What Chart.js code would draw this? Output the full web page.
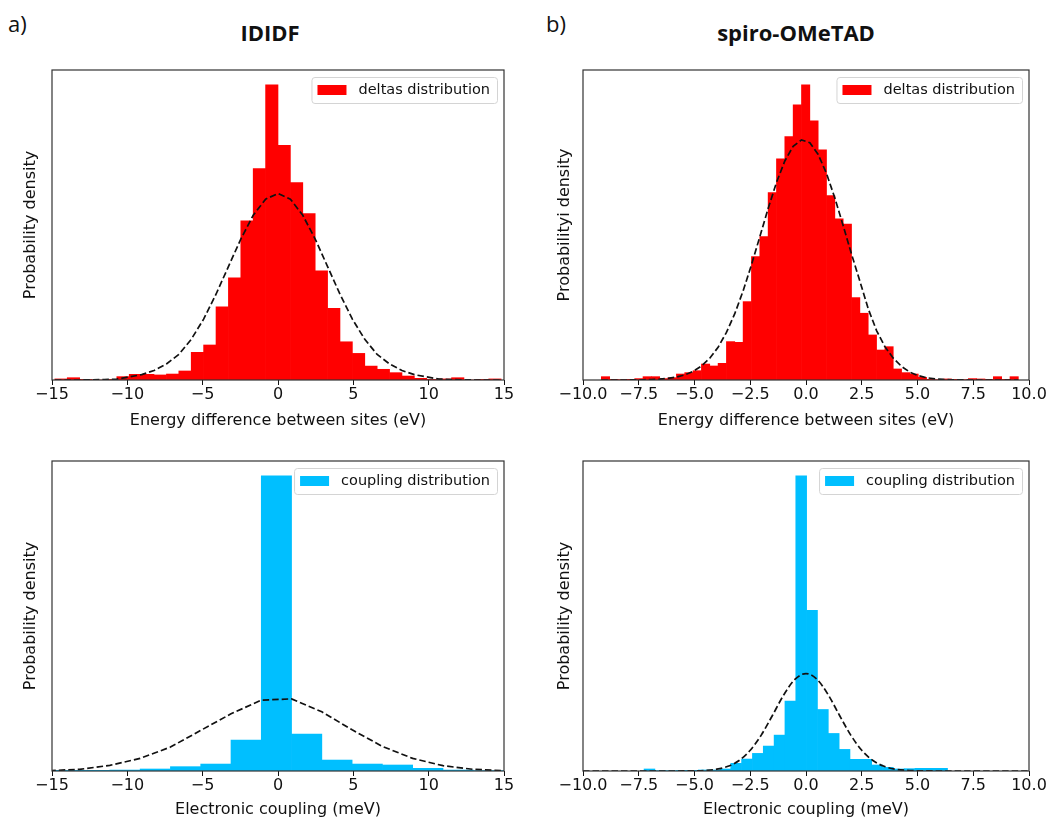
<!DOCTYPE html>
<html><head><meta charset="utf-8">
<script src="https://cdn.jsdelivr.net/npm/chart.js@4"></script>
<style>
body{margin:0;background:#fff;width:1049px;height:823px;position:relative;overflow:hidden;font-family:'Open Sans',sans-serif}
canvas{position:absolute}
.lbl{position:absolute;font-size:22px;line-height:22px;color:#111;white-space:nowrap}
.ttl{position:absolute;font-size:22px;line-height:22px;font-weight:bold;color:#111;white-space:nowrap;transform:translateX(-50%)}
</style></head><body>
<div class="lbl" style="left:8px;top:12px">a)</div>
<div class="lbl" style="left:546px;top:12px">b)</div>
<div class="ttl" style="left:270px;top:21px">IDIDF</div>
<div class="ttl" style="left:796px;top:21px">spiro-OMeTAD</div>
<canvas id="c1" width="520" height="390" style="left:0;top:60px"></canvas>
<canvas id="c2" width="519" height="390" style="left:530px;top:60px"></canvas>
<canvas id="c3" width="520" height="373" style="left:0;top:450px"></canvas>
<canvas id="c4" width="519" height="373" style="left:530px;top:450px"></canvas>
<script>
// ---------- data ----------
const aTopEdges = [-14.81,-13.987,-13.164,-12.342,-11.519,-10.696,-9.874,-9.051,-8.228,-7.405,-6.582,-5.76,-4.937,-4.114,-3.291,-2.468,-1.646,-0.823,0,0.823,1.646,2.468,3.291,4.114,4.937,5.76,6.582,7.405,8.228,9.051,9.874,10.696,11.519,12.342,13.164,13.987,14.81];
const aTopDensity = [0.0007,0.0015,0.0004,0,0.0004,0.0022,0.0037,0.0037,0.0033,0.0039,0.0059,0.0181,0.0229,0.0479,0.0668,0.1041,0.1383,0.1931,0.1535,0.1291,0.1089,0.0714,0.0468,0.0250,0.0174,0.0091,0.0070,0.0048,0.0026,0.0011,0.0004,0.0007,0.0015,0,0.0004,0.0007];
const aTopFit = [0,0,0,0.0001,0.0003,0.0006,0.0020,0.0035,0.0062,0.0105,0.0167,0.0266,0.0398,0.0561,0.0742,0.0922,0.1077,0.1183,0.1220,0.1183,0.1077,0.0922,0.0742,0.0561,0.0398,0.0266,0.0167,0.0105,0.0062,0.0035,0.0020,0.0006,0.0003,0.0001,0,0,0];

const bTopEdges = [-9.178,-8.804,-8.43,-8.056,-7.682,-7.308,-6.934,-6.56,-6.186,-5.812,-5.438,-5.064,-4.69,-4.316,-3.942,-3.568,-3.194,-2.82,-2.446,-2.072,-1.698,-1.324,-0.95,-0.576,-0.202,0.172,0.546,0.92,1.294,1.668,2.042,2.416,2.79,3.164,3.538,3.912,4.286,4.66,5.034,5.408,5.782,6.156,6.53,6.904,7.278,7.652,8.026,8.4,8.774,9.148,9.522];
const bTopDensity = [0.0029,0.0006,0.0003,0.0006,0.0012,0.0029,0.0029,0.0012,0.0020,0.0052,0.0064,0.0081,0.0139,0.0122,0.0145,0.0334,0.0328,0.0682,0.1074,0.1248,0.1631,0.1925,0.2119,0.2395,0.2569,0.2255,0.2003,0.1605,0.1402,0.1356,0.0717,0.0581,0.0392,0.0261,0.0290,0.0096,0.0064,0.0052,0.0023,0.0006,0.0003,0.0009,0.0006,0.0003,0.0012,0.0009,0.0006,0.0029,0.0006,0.0029];
const bTopFit = [0,0,0,0,0.0001,0.0002,0.0004,0.0007,0.0014,0.0025,0.0044,0.0074,0.0121,0.0189,0.0285,0.0414,0.0577,0.0775,0.1002,0.1246,0.1492,0.1719,0.1906,0.2034,0.2089,0.2064,0.1963,0.1797,0.1583,0.1342,0.1095,0.0860,0.0620,0.0430,0.0290,0.0190,0.0118,0.0068,0.0038,0.0020,0.0010,0.0005,0.0002,0.0001,0,0,0,0,0,0,0];

const aBotEdges = [-15.18,-13.17,-11.16,-9.15,-7.14,-5.13,-3.12,-1.11,0.9,2.91,4.92,6.93,8.94,10.95,12.96,14.97];
const aBotDensity = [0.0008,0.0008,0.0011,0.0023,0.0050,0.0080,0.0356,0.3397,0.0425,0.0126,0.0080,0.0069,0.0031,0.0011,0.0004];
const aBotFit = [0.0004,0.0019,0.0065,0.0145,0.0275,0.0467,0.0658,0.0815,0.0830,0.0681,0.0474,0.0283,0.0145,0.0061,0.0019,0.0004];

const bBotEdges = [-7.262,-6.776,-6.29,-5.804,-5.318,-4.832,-4.346,-3.86,-3.374,-2.888,-2.402,-1.916,-1.43,-0.944,-0.458,0.028,0.514,1.0,1.486,1.972,2.458,2.944,3.43,3.916,4.402,4.888,5.374,5.86,6.346];
const bBotDensity = [0.0058,0.0010,0.0010,0.0019,0.0019,0.0029,0.0029,0.0058,0.0221,0.0345,0.0508,0.0719,0.1035,0.2013,0.8514,0.4631,0.1774,0.1083,0.0623,0.0336,0.0336,0.0173,0.0105,0.0058,0.0067,0.0077,0.0077,0.0077];
const bBotFitX = [-10,-9.5,-9,-8.5,-8,-7.5,-7,-6.5,-6,-5.5,-5,-4.5,-4,-3.5,-3,-2.5,-2,-1.5,-1,-0.5,0,0.5,1,1.5,2,2.5,3,3.5,4,4.5,5,5.5,6,6.5,7,7.5,8,8.5,9,9.5,10];
const bBotFitY = [0,0,0,0,0,0,0,0,0,0.0002,0.0006,0.0019,0.0053,0.0135,0.0302,0.0597,0.1042,0.1608,0.2193,0.2641,0.2810,0.2641,0.2193,0.1608,0.1042,0.0597,0.0302,0.0135,0.0053,0.0019,0.0006,0.0002,0,0,0,0,0,0,0,0,0];

const ticksA = [-15,-10,-5,0,5,10,15];
const tickLabelsA = ['\u221215','\u221210','\u22125','0','5','10','15'];
const ticksB = [-10,-7.5,-5,-2.5,0,2.5,5,7.5,10];
const tickLabelsB = ['\u221210.0','\u22127.5','\u22125.0','\u22122.5','0.0','2.5','5.0','7.5','10.0'];

const labelDeltas = 'deltas distribution';
const labelCoupling = 'coupling distribution';
const xTitleTop = 'Energy difference between sites (eV)';
const xTitleBot = 'Electronic coupling (meV)';

// ---------- drawing ----------
Chart.defaults.font.family = "'DejaVu Sans'";
Chart.defaults.color = '#111';

const decorPlugin = {
  id: 'decor',
  afterDraw(chart) {
    const {ctx, chartArea: a} = chart;
    ctx.save();
    ctx.strokeStyle = '#333';
    ctx.lineWidth = 1.2;
    ctx.strokeRect(a.left, a.top, a.right - a.left, a.bottom - a.top);
    const ds = chart.data.datasets[0];
    ctx.font = "14.5px 'DejaVu Sans'";
    const tw = ctx.measureText(ds.label).width;
    const w = 6 + 29 + 12 + tw + 7, h = 26;
    const x = a.right - 7 - w, y = a.top + 7;
    ctx.beginPath();
    ctx.roundRect(x + 0.5, y + 0.5, w, h, 3);
    ctx.fillStyle = 'rgba(255,255,255,0.85)';
    ctx.fill();
    ctx.strokeStyle = '#d4d4d4';
    ctx.lineWidth = 1;
    ctx.stroke();
    ctx.fillStyle = ds.backgroundColor;
    ctx.fillRect(x + 6, y + 8, 29, 10);
    ctx.fillStyle = '#111';
    ctx.textBaseline = 'middle';
    ctx.textAlign = 'left';
    ctx.fillText(ds.label, x + 47, y + h / 2 + 0.5);
    ctx.restore();
  }
};

function panel(id, p) {
  const bars = p.density.map((v, i) => ({x: (p.edges[i] + p.edges[i + 1]) / 2, y: v}));
  const line = p.fitY.map((v, i) => ({x: p.fitX[i], y: v}));
  const ymax = Math.max(...p.density) * 1.05;
  new Chart(document.getElementById(id), {
    type: 'bar',
    data: {datasets: [
      {type: 'bar', label: p.label, data: bars, backgroundColor: p.color, borderWidth: 0,
       barPercentage: 1, categoryPercentage: 1, order: 2},
      {type: 'line', label: 'fit', data: line, borderColor: '#111', borderWidth: 1.7,
       borderDash: [6.5, 3], pointRadius: 0, fill: false, tension: 0,
       cubicInterpolationMode: p.smooth ? 'monotone' : 'default', clip: 0, order: 1}
    ]},
    options: {
      responsive: false, animation: false, events: [], devicePixelRatio: 1,
      layout: {padding: {left: 0, top: p.padTop, right: p.padRight, bottom: 0}},
      plugins: {legend: {display: false}, tooltip: {enabled: false}},
      scales: {
        x: {
          type: 'linear', min: p.xmin, max: p.xmax, offset: false,
          grid: {offset: false, drawOnChartArea: false, drawTicks: true, tickLength: 5, color: '#111', lineWidth: 1},
          border: {display: false},
          afterBuildTicks: s => { s.ticks = p.ticks.map(v => ({value: v})); },
          ticks: {autoSkip: false, maxRotation: 0, padding: 1.5, color: '#111',
                  font: {size: 16, lineHeight: 1},
                  callback: v => p.tickLabels[p.ticks.indexOf(v)]},
          title: {display: true, text: p.xTitle, color: '#111', font: {size: 16, lineHeight: 1},
                  padding: {top: 0, bottom: p.xTitlePad}},
          afterFit: s => { s.height = p.xAxisH; s.paddingLeft = 0; s.paddingRight = 0; }
        },
        y: {
          min: 0, max: ymax,
          ticks: {display: false}, grid: {display: false}, border: {display: false},
          title: {display: true, text: p.yTitle, color: '#111', font: {size: 16, lineHeight: 1},
                  padding: {top: p.yTitlePad, bottom: 0}},
          afterFit: s => { s.width = p.yAxisW; s.paddingTop = 0; s.paddingBottom = 0; }
        }
      }
    },
    plugins: [decorPlugin]
  });
}

panel('c1', {edges: aTopEdges, density: aTopDensity, fitX: aTopEdges, fitY: aTopFit,
  color: '#ff0000', label: labelDeltas, xmin: -15, xmax: 15, ticks: ticksA, tickLabels: tickLabelsA,
  xTitle: xTitleTop, yTitle: 'Probability density', padTop: 10, padRight: 16,
  yAxisW: 52, xAxisH: 70, yTitlePad: 23, xTitlePad: 21, smooth: false});
panel('c2', {edges: bTopEdges, density: bTopDensity, fitX: bTopEdges, fitY: bTopFit,
  color: '#ff0000', label: labelDeltas, xmin: -10, xmax: 10, ticks: ticksB, tickLabels: tickLabelsB,
  xTitle: xTitleTop, yTitle: 'Probabilityi density', padTop: 10, padRight: 20,
  yAxisW: 53, xAxisH: 70, yTitlePad: 27, xTitlePad: 21, smooth: false});
panel('c3', {edges: aBotEdges, density: aBotDensity, fitX: aBotEdges, fitY: aBotFit,
  color: '#00bfff', label: labelCoupling, xmin: -15, xmax: 15, ticks: ticksA, tickLabels: tickLabelsA,
  xTitle: xTitleBot, yTitle: 'Probability density', padTop: 11, padRight: 16,
  yAxisW: 52, xAxisH: 52, yTitlePad: 23, xTitlePad: 5, smooth: false});
panel('c4', {edges: bBotEdges, density: bBotDensity, fitX: bBotFitX, fitY: bBotFitY,
  color: '#00bfff', label: labelCoupling, xmin: -10, xmax: 10, ticks: ticksB, tickLabels: tickLabelsB,
  xTitle: xTitleBot, yTitle: 'Probability density', padTop: 11, padRight: 20,
  yAxisW: 53, xAxisH: 52, yTitlePad: 27, xTitlePad: 5, smooth: true});
</script>
</body></html>
